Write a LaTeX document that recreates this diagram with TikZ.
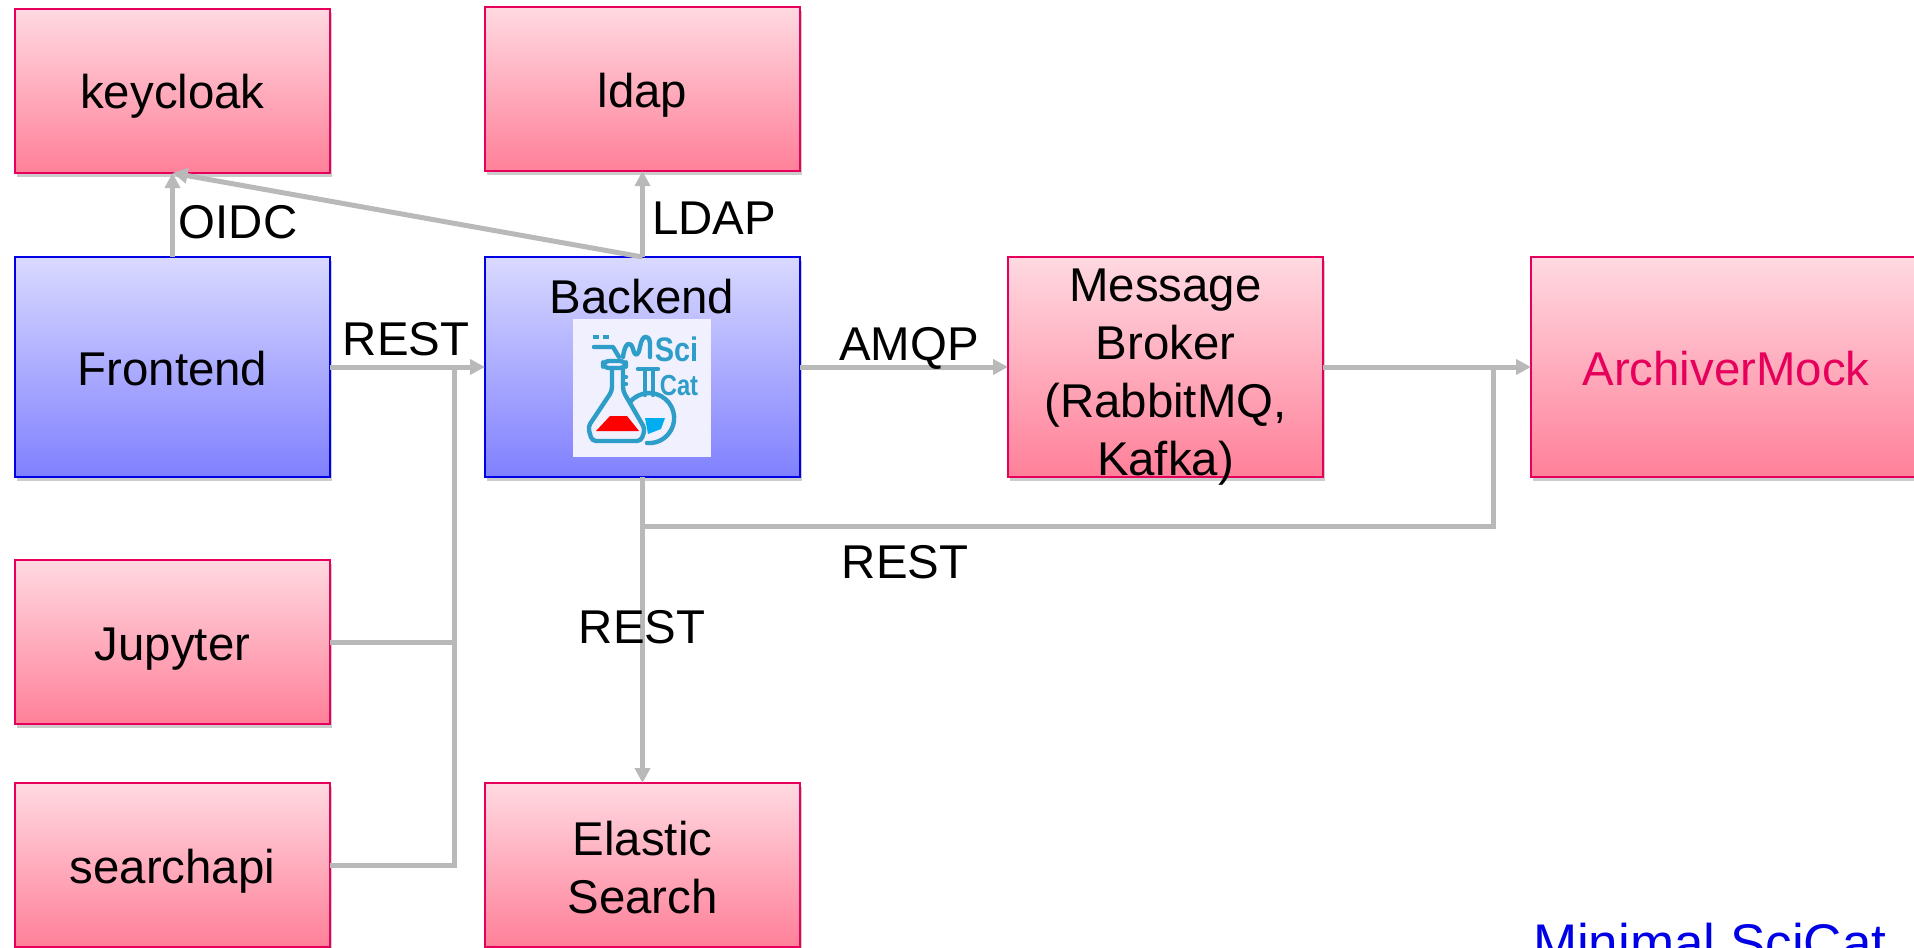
\documentclass[tikz,border=0pt]{standalone}
\usepackage{fontspec}
\setmainfont{Liberation Sans}
\usetikzlibrary{positioning}
\usetikzlibrary{shadows}
\usetikzlibrary{arrows.meta}
\definecolor{rosso}{HTML}{E6005C}
\definecolor{rosa}{HTML}{FFD9E1}
\definecolor{rosaD}{HTML}{FF8099}
\definecolor{blu}{HTML}{0000E6}
\definecolor{azzurro}{HTML}{D9D9FF}
\definecolor{azzurroD}{HTML}{8080FF}
\definecolor{grigio}{HTML}{B9B9B9}
\definecolor{teal}{HTML}{2E9DC8}
\definecolor{sfondo}{HTML}{F0F0FE}
\begin{document}
\begin{tikzpicture}[x=0.5pt,y=-0.5pt,align=center,
every node/.style={font=\fontsize{23.7pt}{29pt}\selectfont,outer sep=0pt},
servizio/.style={draw=rosso,line width=0.9pt,top color=rosa,bottom color=rosaD,minimum width=157.5pt,minimum height=82pt,inner sep=0pt,text height=18pt,text depth=0pt,drop shadow={shadow xshift=1.2pt,shadow yshift=-1.8pt,opacity=0.4}},
alto/.style={minimum height=110pt},
interno/.style={servizio,draw=blu,top color=azzurro,bottom color=azzurroD,alto},
conn/.style={draw=grigio,line width=2.5pt},
freccia/.style={conn,-{Triangle[length=7.5pt,width=7.5pt]}},
tag/.style={inner sep=0pt,anchor=base},
tubo/.style={draw=teal,line width=2.2pt,line join=round,line cap=round}
]
\useasboundingbox (0,0) rectangle (1914,947);
\node[interno](front) at (172.5,367){Frontend};
\node[interno,right=77.5pt of front](back){};
\node[servizio,alto,text height=108pt,right=104pt of back](broker){Message\\Broker\\(RabbitMQ,\\Kafka)};
\node[servizio,alto,minimum width=195pt,text=rosso,right=104pt of broker](archiver){ArchiverMock};
%--
\node[servizio,above=42pt of front](keycloak){keycloak};
\node[servizio,above=43pt of back](ldap){ldap};
\node[servizio,below=41.5pt of front](jupyter){Jupyter};
\node[servizio,below=29.5pt of jupyter](searchapi){searchapi};
\node[servizio,text height=48.5pt,below=153pt of back](elastic){Elastic\\Search};
%--
\coordinate[right=62pt of front](merge);
\coordinate[below=24.5pt of back](split);
\coordinate[left=19pt of archiver](joint);
%--
\draw [freccia] (front) -- (keycloak);
\draw [freccia] (back.north) -- (keycloak.south);
\draw [freccia] (back) -- (ldap);
\draw [freccia] (front) -- (back);
\draw [conn] (jupyter) -- (jupyter -| merge);
\draw [conn] (searchapi) -| (merge);
\draw [freccia] (back) -- (broker);
\draw [freccia] (broker) -- (archiver);
\draw [freccia] (back) -- (elastic);
\draw [conn] (split) -| (joint);
%--
\node[tag](oidcT) at (238,238){OIDC};
\node[tag](ldapT) at (714,234){LDAP};
\node[tag](restA) at (406,355){REST};
\node[tag](amqpT) at (909,360){AMQP};
\node[tag](restB) at (905,578){REST};
\node[tag](restC) at (642,643){REST};
\node[tag,anchor=base west,text=blu,font=\fontsize{26.5pt}{30pt}\selectfont](minimal) at (1533,961){Minimal SciCat};
\node[tag](backT) at (642,313){Backend};
%--
\node[fill=sfondo,minimum size=69pt,inner sep=0pt](logo) at (642,388){};
\begin{scope}[shift={(573,319)}]
\fill[red] (37,97) -- (54,97) -- (66,112) -- (23,112) -- cycle;
\fill[cyan] (72,99) -- (92,99) -- (88,110) -- (75,115) -- cycle;
\draw[tubo,rounded corners=2pt] (39,49) -- (39,72) -- (15,108) -- (19,122) -- (68,122) -- (72,110) -- (50,72) -- (50,49);
\draw[tubo,rounded corners=3pt] (30,42) rectangle (53,49);
\draw[tubo] (50,58) -- (53,58) (50,65) -- (53,65);
\draw[tubo] (65,50) -- (85,50) (72,50) -- (72,76) (80,50) -- (80,76);
\draw[tubo] (57,83) arc (220:455:25);
\draw[tubo] (21,28) -- (40,28) -- (46,38);
\draw[tubo] (50,38) .. controls (52,22) and (58,22) .. (60,30) .. controls (62,38) and (65,38) .. (67,28) .. controls (69,15) and (76,15) .. (77,24) -- (77,38);
\draw[tubo,line cap=butt,dash pattern=on 3pt off 2pt] (20,18) -- (38,18);
\node[tag,text=teal,font=\fontsize{17pt}{17pt}\bfseries\selectfont](sciT) at (103.5,42){\scalebox{0.85}[1]{Sci}};
\node[tag,text=teal,font=\fontsize{14.5pt}{15pt}\bfseries\selectfont](catT) at (106,76){\scalebox{0.82}[1]{Cat}};
\end{scope}
\end{tikzpicture}
\end{document}
